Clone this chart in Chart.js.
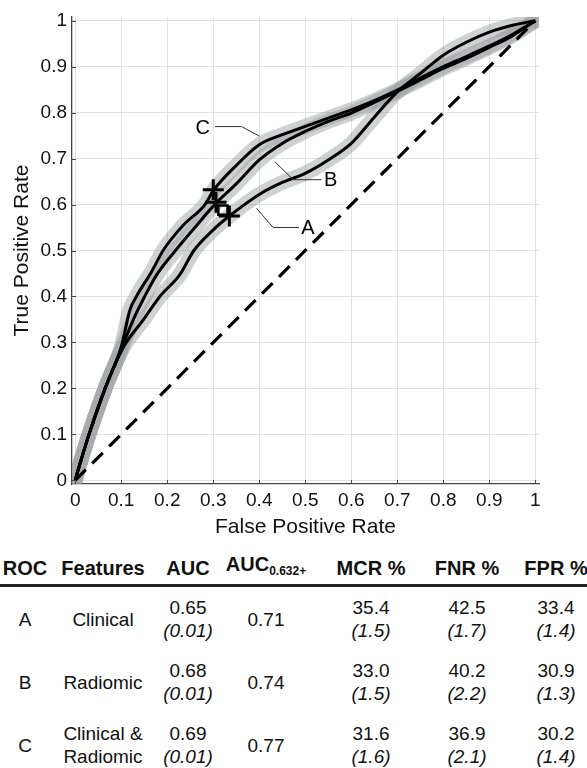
<!DOCTYPE html>
<html>
<head>
<meta charset="utf-8">
<script src="https://cdn.jsdelivr.net/npm/chart.js@4.4.1/dist/chart.umd.min.js"></script>
<style>
  html, body { margin: 0; padding: 0; background: #fff; width: 587px; height: 768px; overflow: hidden; }
  #wrap { position: relative; width: 587px; height: 548px; }
  #table { position: relative; width: 587px; height: 220px; font-family: "Liberation Sans", Arial, sans-serif; color: #111; }
  .cell { position: absolute; width: 140px; text-align: center; transform: translateY(-50%); line-height: 23px; font-size: 19px; white-space: nowrap; }
  .head { font-weight: bold; font-size: 20px; }
  .head sub { font-size: 12px; vertical-align: -4px; }
  .sd { font-style: italic; }
  #rule { position: absolute; left: 0; top: 36px; width: 587px; height: 3px; background: #222; }
</style>
</head>
<body>
<div id="wrap"><canvas id="roc" width="587" height="548"></canvas></div>
<div id="table"><div id="rule"></div></div>
<script>
// axis ticks
const tickValues = [0, 0.1, 0.2, 0.3, 0.4, 0.5, 0.6, 0.7, 0.8, 0.9, 1];

// mean ROC curves (false positive rate, true positive rate)
const fprA = [0, 0.01, 0.03, 0.065, 0.105, 0.148, 0.184, 0.227, 0.258, 0.30, 0.335, 0.4, 0.45, 0.5, 0.55, 0.6, 0.65, 0.7, 0.75, 0.8, 0.85, 0.9, 0.95, 1];
const tprA = [0, 0.035, 0.1, 0.2, 0.29, 0.349, 0.4, 0.447, 0.5, 0.545, 0.575, 0.622, 0.648, 0.668, 0.697, 0.733, 0.79, 0.845, 0.885, 0.925, 0.953, 0.975, 0.99, 1];

const fprB = [0, 0.01, 0.03, 0.065, 0.1, 0.126, 0.151, 0.177, 0.218, 0.26, 0.306, 0.35, 0.4, 0.45, 0.5, 0.55, 0.6, 0.65, 0.7, 0.75, 0.8, 0.85, 0.9, 0.95, 1];
const tprB = [0, 0.035, 0.1, 0.2, 0.285, 0.349, 0.4, 0.447, 0.5, 0.55, 0.603, 0.645, 0.697, 0.733, 0.759, 0.781, 0.799, 0.822, 0.846, 0.871, 0.896, 0.918, 0.942, 0.967, 1];

const fprC = [0, 0.01, 0.03, 0.065, 0.1, 0.119, 0.133, 0.166, 0.191, 0.235, 0.282, 0.30, 0.35, 0.4, 0.45, 0.5, 0.55, 0.6, 0.65, 0.7, 0.75, 0.8, 0.85, 0.9, 0.95, 1];
const tprC = [0, 0.035, 0.1, 0.2, 0.29, 0.371, 0.4, 0.454, 0.5, 0.555, 0.6, 0.63, 0.685, 0.73, 0.752, 0.77, 0.788, 0.806, 0.826, 0.849, 0.875, 0.9, 0.922, 0.945, 0.97, 1];

// chance line
const chanceFpr = [0, 1];
const chanceTpr = [0, 1];

// operating points
const plusFpr = [0.30, 0.306, 0.335];
const plusTpr = [0.632, 0.605, 0.575];
const squareFpr = [0.321];
const squareTpr = [0.588];

// curve labels and their leader lines
const curveNames = ["A", "B", "C"];
const labelFpr = [0.506, 0.555, 0.277];
const labelTpr = [0.548, 0.652, 0.766];
const leaderFprA = [0.394, 0.430, 0.486];
const leaderTprA = [0.592, 0.55, 0.55];
const leaderFprB = [0.434, 0.474, 0.535];
const leaderTprB = [0.693, 0.654, 0.654];
const leaderFprC = [0.3036, 0.3616, 0.40];
const leaderTprC = [0.7696, 0.7696, 0.749];

// table
const rocIds = ["A", "B", "C"];
const features = [["Clinical"], ["Radiomic"], ["Clinical &", "Radiomic"]];
const auc = ["0.65", "0.68", "0.69"];
const aucSd = ["0.01", "0.01", "0.01"];
const auc632 = ["0.71", "0.74", "0.77"];
const mcr = ["35.4", "33.0", "31.6"];
const mcrSd = ["1.5", "1.5", "1.6"];
const fnr = ["42.5", "40.2", "36.9"];
const fnrSd = ["1.7", "2.2", "2.1"];
const fpr = ["33.4", "30.9", "30.2"];
const fprSd = ["1.4", "1.3", "1.4"];

const pts = (xs, ys) => xs.map((x, i) => ({ x: x, y: ys[i] }));

const bandColor = "rgba(150,156,156,0.45)";

function band(xs, ys) {
  return {
    data: pts(xs, ys), showLine: true, pointRadius: 0,
    borderColor: bandColor, borderWidth: 15,
    borderCapStyle: "round", borderJoinStyle: "round",
    cubicInterpolationMode: "monotone", order: 10
  };
}

function curve(xs, ys) {
  return {
    data: pts(xs, ys), showLine: true, pointRadius: 0,
    borderColor: "#000", borderWidth: 3,
    borderJoinStyle: "round", cubicInterpolationMode: "monotone", order: 5
  };
}

function leader(xs, ys) {
  return {
    data: pts(xs, ys), showLine: true, pointRadius: 0,
    borderColor: "#333", borderWidth: 1, order: 4
  };
}

const labelPlugin = {
  id: "curveLabels",
  afterDatasetsDraw(chart) {
    const ctx = chart.ctx;
    const xs = chart.scales.x, ys = chart.scales.y;
    ctx.save();
    ctx.fillStyle = "#000";
    ctx.font = "20px 'Liberation Sans', Arial, sans-serif";
    ctx.textAlign = "center";
    ctx.textBaseline = "middle";
    curveNames.forEach((name, i) => {
      ctx.fillText(name, xs.getPixelForValue(labelFpr[i]), ys.getPixelForValue(labelTpr[i]));
    });
    // short inward tick marks, matlab style
    ctx.strokeStyle = "#444";
    ctx.lineWidth = 1;
    const area = chart.chartArea;
    tickValues.forEach(v => {
      const px = Math.round(xs.getPixelForValue(v)) + 0.5;
      ctx.beginPath(); ctx.moveTo(px, area.bottom); ctx.lineTo(px, area.bottom - 4); ctx.stroke();
      const py = Math.round(ys.getPixelForValue(v)) + 0.5;
      ctx.beginPath(); ctx.moveTo(area.left, py); ctx.lineTo(area.left + 4, py); ctx.stroke();
    });
    ctx.restore();
  }
};

const tickFont = { family: "'Liberation Sans', Arial, sans-serif", size: 19 };
const titleFont = { family: "'Liberation Sans', Arial, sans-serif", size: 21 };

new Chart(document.getElementById("roc"), {
  type: "scatter",
  data: {
    datasets: [
      band(fprA, tprA),
      band(fprB, tprB),
      band(fprC, tprC),
      {
        data: pts(chanceFpr, chanceTpr), showLine: true, pointRadius: 0,
        borderColor: "#000", borderWidth: 3.2, borderDash: [15, 9], order: 6
      },
      curve(fprA, tprA),
      curve(fprB, tprB),
      curve(fprC, tprC),
      leader(leaderFprA, leaderTprA),
      leader(leaderFprB, leaderTprB),
      leader(leaderFprC, leaderTprC),
      {
        data: pts(plusFpr, plusTpr), pointStyle: "cross", pointRadius: 10.5,
        borderColor: "#000", borderWidth: 3, order: 1
      },
      {
        data: pts(squareFpr, squareTpr), pointStyle: "rect", pointRadius: 6.5,
        borderColor: "#000", backgroundColor: "rgba(0,0,0,0)", borderWidth: 2.5, order: 1
      }
    ]
  },
  options: {
    responsive: false,
    animation: false,
    devicePixelRatio: 1,
    layout: { padding: { top: 17, right: 48, left: 0, bottom: 0 } },
    plugins: { legend: { display: false }, tooltip: { enabled: false } },
    scales: {
      x: {
        type: "linear", min: -0.007, max: 1.008,
        afterBuildTicks: axis => { axis.ticks = tickValues.map(v => ({ value: v })); },
        afterFit: axis => { axis.height = 64; },
        ticks: { font: tickFont, color: "#111", padding: 5, maxRotation: 0, callback: v => String(v) },
        grid: { color: "#e2e2e2", lineWidth: 1, drawTicks: false },
        border: { color: "#444", width: 1.3 },
        title: { display: true, text: "False Positive Rate", font: titleFont, color: "#111", padding: { top: 2, bottom: 8 } }
      },
      y: {
        type: "linear", min: -0.008, max: 1.008,
        afterBuildTicks: axis => { axis.ticks = tickValues.map(v => ({ value: v })); },
        afterFit: axis => { axis.width = 72; },
        ticks: { font: tickFont, color: "#111", padding: 5, callback: v => String(v) },
        grid: { color: "#e2e2e2", lineWidth: 1, drawTicks: false },
        border: { color: "#444", width: 1.3 },
        title: { display: true, text: "True Positive Rate", font: titleFont, color: "#111", padding: { top: 10, bottom: 2 } }
      }
    }
  },
  plugins: [labelPlugin]
});

// build the summary table underneath
const table = document.getElementById("table");
const colCenters = [25, 103, 188, 266, 371, 467, 556];
const headers = ["ROC", "Features", "AUC", "AUC<sub>0.632+</sub>", "MCR %", "FNR %", "FPR %"];
const headerY = 20;
const rowY = [71, 134, 197];

function addCell(col, y, html, cls) {
  const d = document.createElement("div");
  d.className = "cell" + (cls ? " " + cls : "");
  d.style.left = (colCenters[col] - 70) + "px";
  d.style.top = y + "px";
  d.innerHTML = html;
  table.appendChild(d);
}

headers.forEach((h, c) => addCell(c, headerY, h, "head"));

rocIds.forEach((id, r) => {
  const y = rowY[r];
  const two = (val, sd) => `${val}<br><span class="sd">(${sd})</span>`;
  addCell(0, y, id);
  addCell(1, y, features[r].join("<br>"));
  addCell(2, y, two(auc[r], aucSd[r]));
  addCell(3, y, auc632[r]);
  addCell(4, y, two(mcr[r], mcrSd[r]));
  addCell(5, y, two(fnr[r], fnrSd[r]));
  addCell(6, y, two(fpr[r], fprSd[r]));
});
</script>
</body>
</html>
